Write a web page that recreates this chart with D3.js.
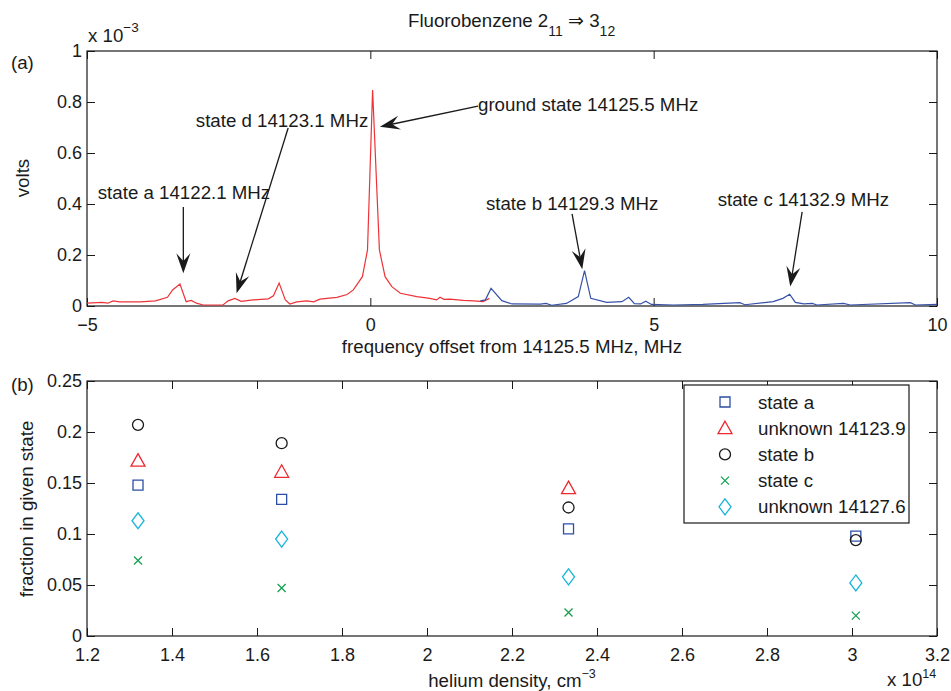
<!DOCTYPE html>
<html>
<head>
<meta charset="utf-8">
<script src="https://cdn.jsdelivr.net/npm/d3@7"></script>
<style>
body { margin: 0; background: #fff; }
svg text { font-family: "Liberation Sans", Arial, sans-serif; font-size: 18.7px; fill: #1a1a1a; }
svg .tick text { font-size: 18px; }
</style>
</head>
<body>
<svg id="chart" width="951" height="691"></svg>
<script>
// -------------------------
// Data (a): spectrum, volts in units of 1e-3
// -------------------------
const redFreq  = [-5.0, -4.74, -4.63, -4.54, -4.42, -4.06, -3.79, -3.58, -3.49, -3.36, -3.25, -3.16, -3.07, -2.95, -2.60, -2.51, -2.39, -2.28, -2.07, -1.80, -1.71, -1.61, -1.50, -1.42, -1.30, -1.12, -1.00, -0.89, -0.59, -0.41, -0.30, -0.14, -0.05, 0.04, 0.16, 0.26, 0.38, 0.53, 0.82, 1.05, 1.17, 1.23, 1.30, 1.40, 1.64, 1.82, 1.99, 2.10];
const redVolts = [0.011, 0.014, 0.011, 0.020, 0.016, 0.016, 0.020, 0.034, 0.063, 0.086, 0.017, 0.022, 0.011, 0.004, 0.004, 0.020, 0.030, 0.018, 0.024, 0.028, 0.040, 0.090, 0.024, 0.008, 0.016, 0.020, 0.016, 0.027, 0.034, 0.045, 0.063, 0.115, 0.220, 0.847, 0.220, 0.115, 0.076, 0.050, 0.037, 0.030, 0.024, 0.034, 0.026, 0.027, 0.022, 0.020, 0.017, 0.030];
const blueFreq  = [1.94, 2.03, 2.13, 2.32, 2.50, 3.00, 3.10, 3.20, 3.46, 3.67, 3.78, 3.89, 4.17, 4.44, 4.56, 4.66, 4.77, 4.86, 4.96, 5.35, 5.87, 6.52, 6.61, 7.11, 7.28, 7.40, 7.50, 7.65, 7.80, 7.88, 8.35, 8.47, 9.53, 9.62, 10.0];
const blueVolts = [0.020, 0.024, 0.069, 0.021, 0.008, 0.007, 0.010, 0.003, 0.010, 0.037, 0.139, 0.030, 0.014, 0.017, 0.034, 0.009, 0.008, 0.019, 0.006, 0.004, 0.006, 0.013, 0.005, 0.017, 0.030, 0.046, 0.014, 0.008, 0.010, 0.004, 0.010, 0.004, 0.013, 0.004, 0.006];

// annotations: text anchor, arrow tail, arrow tip (data coords)
const annLabels = ["state a 14122.1 MHz", "state d 14123.1 MHz", "ground state 14125.5 MHz", "state b 14129.3 MHz", "state c 14132.9 MHz"];
const annText = [[-4.81, 0.447], [-3.08, 0.729], [1.90, 0.792], [2.04, 0.404], [6.13, 0.416]];
const annTail = [[-3.30, 0.388], [-1.45, 0.698], [1.90, 0.784], [3.56, 0.361], [7.62, 0.369]];
const annTip  = [[-3.30, 0.128], [-2.36, 0.050], [0.17, 0.703], [3.74, 0.144], [7.41, 0.076]];

const topXTicks = [-5, 0, 5, 10];
const topYTicks = [0, 0.2, 0.4, 0.6, 0.8, 1];

// -------------------------
// Data (b): fraction in given state vs helium density (1e14 cm^-3)
// -------------------------
const density = [1.32, 1.658, 2.333, 3.009];
const seriesNames = ["state a", "unknown 14123.9", "state b", "state c", "unknown 14127.6"];
const stateA   = [0.148, 0.134, 0.105, 0.098];
const unk1239  = [0.172, 0.161, 0.145, null];
const stateB   = [0.207, 0.189, 0.126, 0.094];
const stateC   = [0.074, 0.047, 0.023, 0.020];
const unk1276  = [0.113, 0.095, 0.058, 0.052];

const botXTicks = [1.2, 1.4, 1.6, 1.8, 2, 2.2, 2.4, 2.6, 2.8, 3, 3.2];
const botYTicks = [0, 0.05, 0.1, 0.15, 0.2, 0.25];

// -------------------------
// Layout
// -------------------------
const svg = d3.select("#chart");
const L = 87, R = 937, W = R - L;
const topA = 51, botA = 306;
const topB = 381, botB = 636;
const TICK = 8;

const xA = d3.scaleLinear().domain([-5, 10]).range([L, R]);
const yA = d3.scaleLinear().domain([0, 1]).range([botA, topA]);
const xB = d3.scaleLinear().domain([1.2, 3.2]).range([L, R]);
const yB = d3.scaleLinear().domain([0, 0.25]).range([botB, topB]);

const fmt = d3.format("~g");

function drawAxes(x, y, xt, yt, top, bot) {
    svg.append("g").attr("transform", `translate(0,${bot})`)
        .call(d3.axisBottom(x).tickValues(xt).tickSizeInner(-TICK).tickSizeOuter(0).tickPadding(12.5).tickFormat(fmt));
    svg.append("g").attr("transform", `translate(0,${top})`)
        .call(d3.axisTop(x).tickValues(xt).tickSizeInner(-TICK).tickSizeOuter(0).tickFormat(""));
    svg.append("g").attr("class", "yax").attr("transform", `translate(${L},0)`)
        .call(d3.axisLeft(y).tickValues(yt).tickSizeInner(-TICK).tickSizeOuter(0).tickPadding(5).tickFormat(fmt));
    svg.append("g").attr("transform", `translate(${R},0)`)
        .call(d3.axisRight(y).tickValues(yt).tickSizeInner(-TICK).tickSizeOuter(0).tickFormat(""));
    svg.selectAll(".domain").remove();
    svg.selectAll(".tick line").attr("stroke", "#1a1a1a");
    svg.selectAll(".tick text").attr("font-size", null).attr("font-family", null).attr("fill", "#1a1a1a");
    svg.selectAll(".yax .tick text").attr("dy", "0.28em");
    svg.append("rect").attr("x", L).attr("y", top).attr("width", W).attr("height", bot - top)
        .attr("fill", "none").attr("stroke", "#1a1a1a").attr("stroke-width", 1.2);
}

drawAxes(xA, yA, topXTicks, topYTicks, topA, botA);
drawAxes(xB, yB, botXTicks, botYTicks, topB, botB);

// -------------------------
// Panel (a) traces
// -------------------------
const line = d3.line().x(d => xA(d[0])).y(d => yA(d[1]));
svg.append("path").datum(redFreq.map((f, i) => [f, redVolts[i]]))
    .attr("d", line).attr("fill", "none").attr("stroke", "#ee3338").attr("stroke-width", 1.2);
svg.append("path").datum(blueFreq.map((f, i) => [f, blueVolts[i]]))
    .attr("d", line).attr("fill", "none").attr("stroke", "#3652a8").attr("stroke-width", 1.2);

// annotations
annLabels.forEach((t, i) => {
    svg.append("text").attr("x", xA(annText[i][0])).attr("y", yA(annText[i][1]))
        .attr("dy", "0.35em").text(t);
    const x1 = xA(annTail[i][0]), y1 = yA(annTail[i][1]);
    const x2 = xA(annTip[i][0]), y2 = yA(annTip[i][1]);
    const ang = Math.atan2(y2 - y1, x2 - x1);
    const HL = 20, HW = 7;
    svg.append("line").attr("x1", x1).attr("y1", y1)
        .attr("x2", x2 - Math.cos(ang) * HL * 0.6).attr("y2", y2 - Math.sin(ang) * HL * 0.6)
        .attr("stroke", "#1a1a1a").attr("stroke-width", 1.3);
    const pts = [[0, 0], [-HL, -HW], [-HL * 0.62, 0], [-HL, HW]];
    svg.append("path")
        .attr("d", "M" + pts.map(p => p.join(",")).join("L") + "Z")
        .attr("transform", `translate(${x2},${y2}) rotate(${ang * 180 / Math.PI})`)
        .attr("fill", "#1a1a1a");
});

// -------------------------
// Panel (b) markers
// -------------------------
const shapes = {
    square: s => `M${-5},${-5}h10v10h-10Z`,
    triangle: s => `M0,-7L7,5.5L-7,5.5Z`,
    circle: s => `M5.5,0A5.5,5.5 0 1,1 -5.5,0A5.5,5.5 0 1,1 5.5,0Z`,
    cross: s => `M-4,-4L4,4M-4,4L4,-4`,
    diamond: s => `M0,-8L6,0L0,8L-6,0Z`
};
const series = [
    {name: seriesNames[0], vals: stateA,  shape: "square",   color: "#2d4ea6"},
    {name: seriesNames[1], vals: unk1239, shape: "triangle", color: "#ec2a30"},
    {name: seriesNames[2], vals: stateB,  shape: "circle",   color: "#1a1a1a"},
    {name: seriesNames[3], vals: stateC,  shape: "cross",    color: "#13a150"},
    {name: seriesNames[4], vals: unk1276, shape: "diamond",  color: "#18b4da"}
];

series.forEach(s => {
    svg.append("g").selectAll("path")
        .data(density.map((d, i) => [d, s.vals[i]]).filter(d => d[1] != null))
        .enter().append("path")
        .attr("d", shapes[s.shape]())
        .attr("transform", d => `translate(${xB(d[0])},${yB(d[1])})`)
        .attr("fill", "none").attr("stroke", s.color).attr("stroke-width", 1.3);
});

// legend
const lg = svg.append("g");
lg.append("rect").attr("x", 684).attr("y", 385).attr("width", 225).attr("height", 138)
    .attr("fill", "#fff").attr("stroke", "#1a1a1a").attr("stroke-width", 1.2);
series.forEach((s, i) => {
    const cy = 402 + i * 26.2;
    lg.append("path").attr("d", shapes[s.shape]()).attr("transform", `translate(725,${cy})`)
        .attr("fill", "none").attr("stroke", s.color).attr("stroke-width", 1.3);
    lg.append("text").attr("x", 758).attr("y", cy).attr("dy", "0.35em").text(s.name);
});

// -------------------------
// Labels
// -------------------------
const title = svg.append("text").attr("x", 408).attr("y", 27);
title.append("tspan").text("Fluorobenzene 2");
title.append("tspan").attr("dy", 9).attr("font-size", 14).text("11");
title.append("tspan").attr("dy", -9).text(" \u21D2 3");
title.append("tspan").attr("dy", 9).attr("font-size", 14).text("12");

svg.append("text").attr("x", 11).attr("y", 69).attr("font-size", 20).text("(a)");
svg.append("text").attr("x", 11).attr("y", 391).attr("font-size", 20).text("(b)");

const e3 = svg.append("text").attr("x", 88).attr("y", 42);
e3.append("tspan").text("x 10");
e3.append("tspan").attr("dy", -10).attr("font-size", 13.5).text("\u22123");

const e14 = svg.append("text").attr("x", 887).attr("y", 686);
e14.append("tspan").text("x 10");
e14.append("tspan").attr("dy", -8).attr("font-size", 12.5).text("14");

svg.append("text").attr("x", (L + R) / 2).attr("y", 352.5).attr("text-anchor", "middle")
    .text("frequency offset from 14125.5 MHz, MHz");

const xl = svg.append("text").attr("x", (L + R) / 2).attr("y", 687).attr("text-anchor", "middle");
xl.append("tspan").text("helium density, cm");
xl.append("tspan").attr("dy", -9).attr("font-size", 12.5).text("\u22123");

svg.append("text").attr("transform", "translate(29,178) rotate(-90)").attr("text-anchor", "middle").text("volts");
svg.append("text").attr("transform", "translate(33,509) rotate(-90)").attr("text-anchor", "middle").text("fraction in given state");
</script>
</body>
</html>
